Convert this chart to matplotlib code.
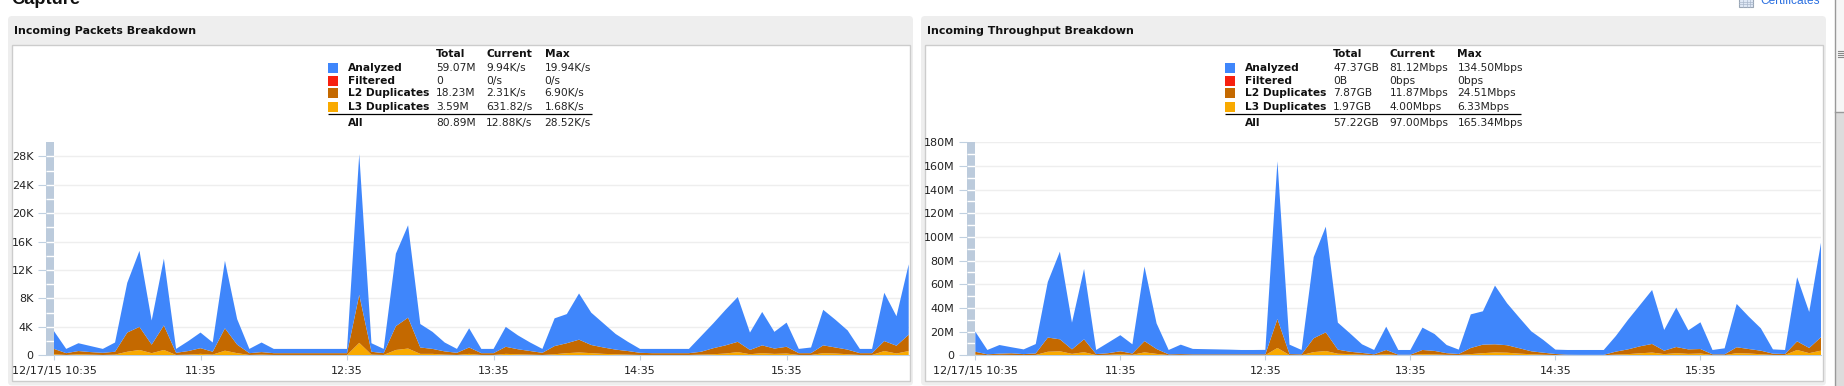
import matplotlib
matplotlib.use("Agg")
import matplotlib.pyplot as plt
import numpy as np
from matplotlib.patches import FancyBboxPatch, Rectangle

W, H = 1844, 386

# ---- data -----------------------------------------------------------------
minutes = list(range(0, 355, 5))
tick_minutes = [0, 60, 120, 180, 240, 300]
tick_labels = ["12/17/15 10:35", "11:35", "12:35", "13:35", "14:35", "15:35"]

# Incoming packets (K/s): cumulative tops of the stack
pk_total = [3.4, 0.9, 1.7, 1.3, 0.9, 1.8, 10.2, 14.7, 4.9, 13.6, 0.9, 2.0, 3.2, 1.8, 13.3, 5.1, 0.9, 1.8,
            0.9, 0.9, 0.9, 0.9, 0.9, 0.9, 0.9, 28.3, 1.7, 0.9, 14.3, 18.3, 4.4, 3.3, 1.8, 0.9, 3.8, 0.9,
            0.9, 4.0, 2.8, 1.8, 0.9, 5.2, 5.8, 8.7, 6.0, 4.5, 3.0, 1.9, 0.9, 0.9, 0.9, 0.9, 0.9, 2.7,
            4.5, 6.4, 8.2, 3.2, 6.1, 3.3, 4.6, 0.9, 1.1, 6.4, 5.0, 3.5, 0.9, 0.9, 8.8, 5.5, 12.8]
pk_l2_top = [0.9, 0.3, 0.6, 0.45, 0.35, 0.5, 3.2, 4.0, 1.5, 4.2, 0.35, 0.6, 1.0, 0.5, 3.8, 1.5, 0.3, 0.45,
             0.3, 0.3, 0.3, 0.3, 0.3, 0.3, 0.3, 8.5, 0.5, 0.3, 4.1, 5.3, 1.1, 0.9, 0.55, 0.35, 1.1, 0.3,
             0.3, 1.2, 0.85, 0.6, 0.35, 1.3, 1.7, 2.2, 1.45, 1.1, 0.8, 0.6, 0.35, 0.3, 0.3, 0.3, 0.3, 0.5,
             1.0, 1.4, 1.9, 0.75, 1.4, 0.95, 1.2, 0.3, 0.3, 1.4, 1.1, 0.8, 0.3, 0.3, 2.0, 1.35, 2.9]
pk_l3 = [0.15, 0.05, 0.15, 0.1, 0.05, 0.1, 0.5, 0.75, 0.3, 0.75, 0.05, 0.1, 0.2, 0.1, 0.65, 0.3, 0.05, 0.1,
         0.05, 0.05, 0.05, 0.05, 0.05, 0.05, 0.05, 1.75, 0.1, 0.05, 0.75, 0.95, 0.2, 0.2, 0.1, 0.05, 0.2, 0.05,
         0.05, 0.2, 0.15, 0.1, 0.05, 0.15, 0.3, 0.4, 0.3, 0.2, 0.15, 0.1, 0.05, 0.05, 0.05, 0.05, 0.05, 0.1,
         0.15, 0.25, 0.45, 0.15, 0.3, 0.2, 0.25, 0.05, 0.05, 0.3, 0.25, 0.15, 0.05, 0.05, 0.6, 0.25, 0.6]

# Incoming throughput (Mbps): cumulative tops of the stack
tp_total = [20, 4.5, 8.7, 6.8, 5, 9.5, 62, 87.6, 27.6, 73, 4.5, 10.7, 17, 9.3, 75, 27, 4.5, 9,
            5.4, 5.2, 5, 4.8, 4.5, 4.5, 4.6, 164, 9, 4.5, 83, 108.7, 27.6, 18.6, 9.3, 4.5, 24.2, 4.5,
            4.5, 23.4, 18, 8.7, 4.8, 34.6, 37.2, 58.9, 44, 32, 20.3, 13, 4.8, 4.5, 4.5, 4.5, 4.5, 16.3,
            29.9, 42.5, 55.2, 21.4, 40.3, 21.1, 27.9, 4.5, 5.9, 43.4, 32.7, 22.8, 5, 4.5, 66, 36.6, 96.6]
tp_l2_top = [3, 0.8, 1.4, 1.7, 1, 1.6, 15, 13.5, 5, 13.5, 1, 1.8, 3.4, 1.5, 12, 5.3, 0.8, 1,
             0.8, 0.8, 0.8, 0.8, 0.8, 0.8, 0.8, 30.7, 1, 0.8, 14.4, 19.4, 4.8, 3, 2, 0.8, 4.5, 0.5,
             0.5, 4.5, 3.7, 1.8, 1.1, 6.2, 9, 9.3, 8.5, 6, 3.4, 2.2, 1.1, 0.5, 0.4, 0.4, 0.4, 3.1,
             5, 7.6, 9.6, 3.9, 7, 5, 5.3, 0.8, 0.8, 6.8, 5.3, 3.9, 1.4, 1.1, 11.8, 6.2, 15.5]
tp_l3 = [0.6, 0.2, 0.4, 0.3, 0.2, 0.3, 3, 3.4, 1.2, 2.6, 0.2, 0.4, 1, 0.4, 2.5, 1.2, 0.2, 0.2,
         0.15, 0.15, 0.15, 0.15, 0.15, 0.15, 0.15, 6.2, 0.2, 0.15, 2.7, 3.6, 1.3, 1, 0.5, 0.2, 1, 0.15,
         0.15, 1, 0.8, 0.4, 0.3, 1, 1.8, 2.4, 2.2, 1.4, 0.9, 0.5, 0.2, 0.1, 0.1, 0.1, 0.1, 0.6,
         1, 1.7, 2.3, 1, 1.8, 1.2, 1.5, 0.2, 0.2, 1.8, 1.5, 0.9, 0.3, 0.3, 4.5, 1.8, 4]

pk_yticks = [0, 4, 8, 12, 16, 20, 24, 28]
pk_ylabels = ["0", "4K", "8K", "12K", "16K", "20K", "24K", "28K"]
tp_yticks = [0, 20, 40, 60, 80, 100, 120, 140, 160, 180]
tp_ylabels = ["0", "20M", "40M", "60M", "80M", "100M", "120M", "140M", "160M", "180M"]

legend_names = ["Analyzed", "Filtered", "L2 Duplicates", "L3 Duplicates"]
legend_cols = ["Total", "Current", "Max"]
pk_table = [["59.07M", "9.94K/s", "19.94K/s"], ["0", "0/s", "0/s"],
            ["18.23M", "2.31K/s", "6.90K/s"], ["3.59M", "631.82/s", "1.68K/s"]]
pk_all = ["80.89M", "12.88K/s", "28.52K/s"]
tp_table = [["47.37GB", "81.12Mbps", "134.50Mbps"], ["0B", "0bps", "0bps"],
            ["7.87GB", "11.87Mbps", "24.51Mbps"], ["1.97GB", "4.00Mbps", "6.33Mbps"]]
tp_all = ["57.22GB", "97.00Mbps", "165.34Mbps"]

# ---- styles ---------------------------------------------------------------
C_AN, C_FI, C_L2, C_L3 = "#3f86fb", "#f7200f", "#c46900", "#f9aa00"
COLORS = [C_AN, C_FI, C_L2, C_L3]
C_TICK, C_GRID, C_BAR = "#c0d0e0", "#eeeeee", "#bccbdc"
C_TXT = "#222222"
FS = 7.7
plt.rcParams["font.family"] = ["DejaVu Sans"]

fig = plt.figure(figsize=(W / 100, H / 100), dpi=100, facecolor="white")
bg = fig.add_axes([0, 0, 1, 1], zorder=0)
bg.set_xlim(0, W)
bg.set_ylim(H, 0)
bg.axis("off")


def rect(x0, y0, x1, y1, **kw):
    bg.add_patch(Rectangle((x0, y0), x1 - x0, y1 - y0, **kw))


def panel(x0, x1, ix0, ix1, title, tx):
    bg.add_patch(FancyBboxPatch((x0 + 4, 20), x1 - x0 - 8, 361, boxstyle="round,pad=0,rounding_size=0",
                                fc="none", ec="none"))
    bg.add_patch(FancyBboxPatch((x0, 16), x1 - x0, 369.5, boxstyle="round,pad=0,rounding_size=4",
                                fc="#eeeeee", ec="none", mutation_aspect=1))
    rect(ix0, 45, ix1, 381, fc="white", ec="#cccccc", lw=1)
    bg.text(tx, 31, title, fontsize=7.9, fontweight="bold", va="center", ha="left", color="#111111")


def table(sw0, sw1, lab, cols, rows, allrow, line1):
    col_y = [67.7, 80.7, 93.3, 106.7]
    for cx, name in zip(cols, legend_cols):
        bg.text(cx, 54.3, name, fontsize=FS, fontweight="bold", va="center", color="#111111")
    for y, name, colr, vals in zip(col_y, legend_names, COLORS, rows):
        rect(sw0, y - 5, sw1, y + 5, fc=colr, ec="none")
        bg.text(lab, y, name, fontsize=FS, fontweight="bold", va="center", color="#111111")
        for cx, v in zip(cols, vals):
            bg.text(cx, y, v, fontsize=FS, va="center", color=C_TXT)
    bg.plot([sw0, line1], [114.3, 114.3], color="black", lw=0.9, solid_capstyle="butt")
    bg.text(lab, 123.3, "All", fontsize=FS, fontweight="bold", va="center", color="#111111")
    for cx, v in zip(cols, allrow):
        bg.text(cx, 123.3, v, fontsize=FS, va="center", color=C_TXT)


panel(8, 913, 11.5, 909.5, "Incoming Packets Breakdown", 14)
panel(921, 1826, 924.5, 1822.5, "Incoming Throughput Breakdown", 927)
table(328, 338, 348, [436, 486, 544.5], pk_table, pk_all, 592)
table(1224.5, 1235, 1245.3, [1333, 1389.4, 1457.4], tp_table, tp_all, 1521)

bg.text(11, 3.5, "Capture", family="Liberation Sans", fontweight="bold", fontsize=13.2,
        va="baseline", color="#111111")
bg.text(1760, 4, "Certificates", family="Liberation Sans", fontsize=8.6, va="baseline", color="#2a6fe0")
rect(1739, -2, 1753, 7, fc="#dfe8f5", ec="#9aa6b5", lw=0.8)
for gx in (1743, 1746.5, 1750):
    bg.plot([gx, gx], [0, 7], color="#aab8cc", lw=0.5)
for gy in (1.5, 4):
    bg.plot([1739, 1753], [gy, gy], color="#aab8cc", lw=0.5)

# scrollbar
rect(1835, 0, W, 112, fc="#f6f6f6", ec="none")
rect(1835, 112, W, H, fc="#dcdcdc", ec="none")
bg.plot([1834.5, 1834.5], [0, H], color="#999999", lw=1)
bg.plot([1835, W], [112, 112], color="#999999", lw=1)
for gy in (51, 53, 55, 57):
    bg.plot([1838, 1843], [gy, gy], color="#888888", lw=0.8)


def chart(px0, px_zero, px1, ytop_px, ymax, total, l2_top, l3, yticks, ylabels, stripe):
    """px0: left of band, px_zero: first sample, px1: last sample."""
    y0_px = 355.3
    ax = fig.add_axes([px0 / W, 1 - y0_px / H, (px1 - px0) / W, (y0_px - ytop_px) / H], zorder=2)
    ax.patch.set_alpha(0)
    x = np.array(minutes, dtype=float)
    span = x[-1] - x[0]
    band = (px_zero - px0) / ((px1 - px_zero) / span)
    ax.set_xlim(-band, x[-1])
    ax.set_ylim(0, ymax)

    t, m, s = np.array(total, float), np.array(l2_top, float), np.array(l3, float)
    ax.stackplot(x, s, m - s, np.zeros_like(x), t - m, colors=[C_L3, C_L2, C_FI, C_AN],
                 linewidth=0, zorder=3)
    ax.bar(-band, ymax, width=band, align="edge", color=C_BAR, linewidth=0, zorder=2)
    for v in np.arange(stripe, ymax, stripe):
        ax.plot([-band, 0], [v, v], color="white", lw=1, zorder=2.5, solid_capstyle="butt")

    ax.set_yticks(yticks, ylabels)
    ax.set_xticks(tick_minutes, tick_labels)
    ax.grid(axis="y", color=C_GRID, lw=1, zorder=1)
    ax.set_axisbelow(True)
    ax.tick_params(axis="y", length=5.8, width=0.8, color=C_TICK, pad=3.4, labelsize=FS + 0.3, labelcolor=C_TXT)
    ax.tick_params(axis="x", length=3.4, width=0.8, color=C_TICK, pad=4.6, labelsize=FS + 0.3, labelcolor=C_TXT)
    for k in ("top", "right", "left"):
        ax.spines[k].set_visible(False)
    ax.spines["bottom"].set_color(C_TICK)
    ax.spines["bottom"].set_linewidth(0.8)
    return ax


chart(46, 54, 908.7, 142.1, 30, pk_total, pk_l2_top, pk_l3, pk_yticks, pk_ylabels, 2)
chart(967, 975.3, 1821.3, 142.3, 180, tp_total, tp_l2_top, tp_l3, tp_yticks, tp_ylabels, 10)

fig.savefig("out.png", dpi=100, facecolor="white")
